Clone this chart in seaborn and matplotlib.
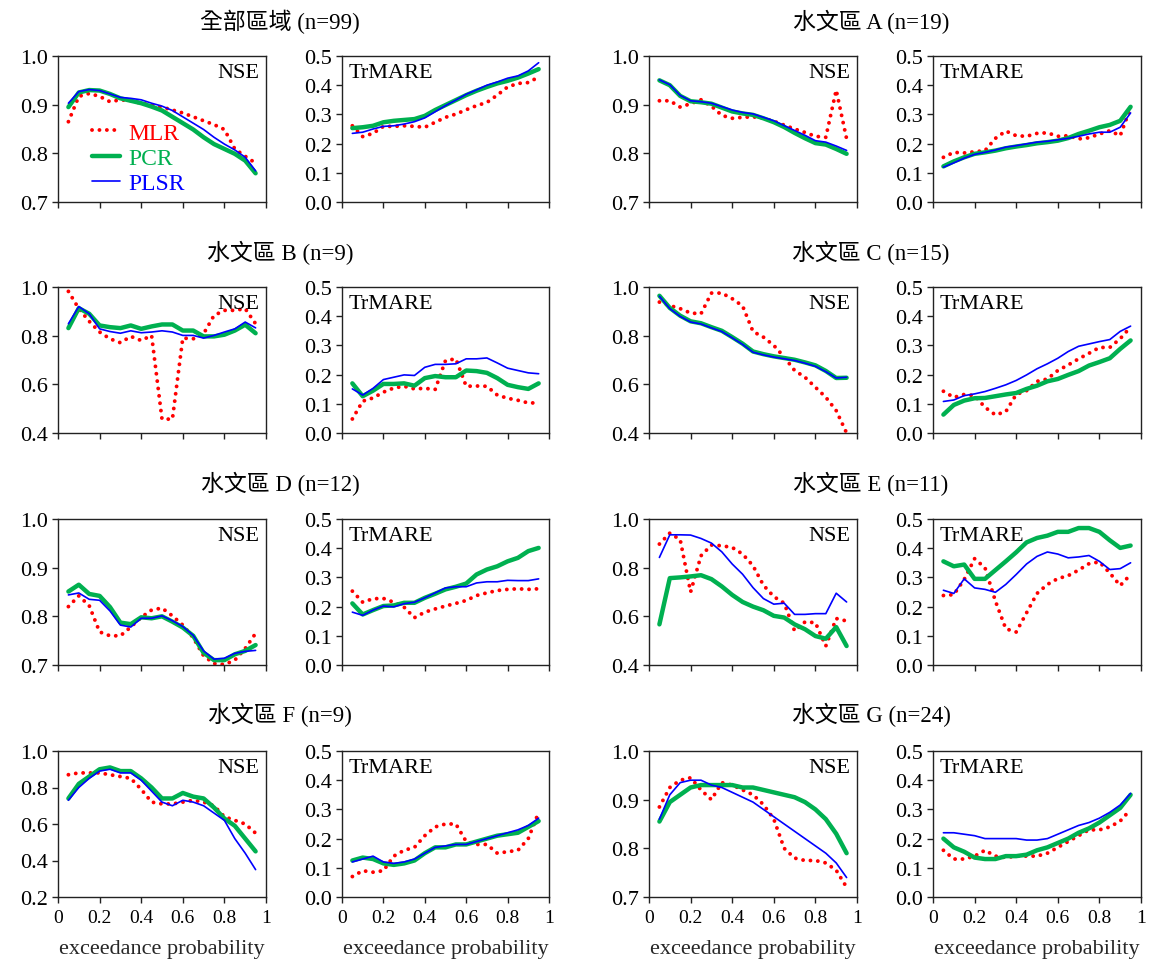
import numpy as np
import matplotlib
matplotlib.use("Agg")
import matplotlib.pyplot as plt
import seaborn as sns

# exceedance probability grid
prob = [0.05, 0.10, 0.15, 0.20, 0.25, 0.30, 0.35, 0.40, 0.45, 0.50,
        0.55, 0.60, 0.65, 0.70, 0.75, 0.80, 0.85, 0.90, 0.95]

regions = ["全部區域 (n=99)", "水文區 A (n=19)", "水文區 B (n=9)", "水文區 C (n=15)",
           "水文區 D (n=12)", "水文區 E (n=11)", "水文區 F (n=9)", "水文區 G (n=24)"]

# 全部區域
nse_all_mlr = [0.865, 0.917, 0.923, 0.917, 0.906, 0.910, 0.908, 0.903, 0.899, 0.895,
               0.889, 0.883, 0.875, 0.867, 0.859, 0.849, 0.809, 0.794, 0.780]
nse_all_pcr = [0.895, 0.925, 0.930, 0.929, 0.922, 0.913, 0.908, 0.903, 0.896, 0.888,
               0.875, 0.862, 0.849, 0.833, 0.819, 0.809, 0.799, 0.785, 0.759]
nse_all_plsr = [0.903, 0.927, 0.931, 0.929, 0.922, 0.915, 0.913, 0.910, 0.903, 0.897,
                0.888, 0.875, 0.862, 0.849, 0.833, 0.819, 0.807, 0.792, 0.764]
tr_all_mlr = [0.261, 0.224, 0.235, 0.259, 0.259, 0.261, 0.259, 0.256, 0.273, 0.290,
              0.301, 0.316, 0.330, 0.341, 0.366, 0.394, 0.406, 0.409, 0.428]
tr_all_pcr = [0.253, 0.256, 0.261, 0.273, 0.278, 0.281, 0.284, 0.295, 0.315, 0.332,
              0.349, 0.366, 0.381, 0.394, 0.406, 0.415, 0.426, 0.440, 0.455]
tr_all_plsr = [0.235, 0.239, 0.250, 0.259, 0.261, 0.267, 0.275, 0.288, 0.309, 0.330,
               0.349, 0.369, 0.384, 0.400, 0.411, 0.424, 0.432, 0.449, 0.477]

# 水文區 A
nse_a_mlr = [0.908, 0.908, 0.895, 0.902, 0.910, 0.897, 0.878, 0.872, 0.874, 0.875,
             0.872, 0.866, 0.858, 0.850, 0.843, 0.835, 0.833, 0.930, 0.830]
nse_a_pcr = [0.950, 0.940, 0.918, 0.907, 0.905, 0.902, 0.894, 0.886, 0.882, 0.879,
             0.872, 0.864, 0.854, 0.842, 0.831, 0.821, 0.818, 0.809, 0.799]
nse_a_plsr = [0.951, 0.941, 0.919, 0.908, 0.906, 0.903, 0.896, 0.889, 0.884, 0.881,
              0.874, 0.867, 0.857, 0.847, 0.837, 0.826, 0.823, 0.815, 0.806]
tr_a_mlr = [0.153, 0.170, 0.168, 0.172, 0.176, 0.218, 0.243, 0.227, 0.225, 0.235,
            0.237, 0.225, 0.227, 0.216, 0.220, 0.233, 0.244, 0.227, 0.324]
tr_a_pcr = [0.122, 0.139, 0.153, 0.165, 0.170, 0.176, 0.184, 0.190, 0.195, 0.201,
            0.205, 0.210, 0.219, 0.233, 0.244, 0.256, 0.264, 0.278, 0.326]
tr_a_plsr = [0.119, 0.134, 0.150, 0.163, 0.170, 0.178, 0.188, 0.193, 0.199, 0.205,
             0.208, 0.213, 0.218, 0.225, 0.233, 0.239, 0.239, 0.256, 0.305]

# 水文區 B
nse_b_mlr = [0.982, 0.911, 0.859, 0.815, 0.787, 0.771, 0.797, 0.780, 0.801, 0.457,
             0.457, 0.790, 0.787, 0.808, 0.883, 0.904, 0.904, 0.911, 0.849]
nse_b_pcr = [0.831, 0.913, 0.890, 0.842, 0.835, 0.831, 0.842, 0.828, 0.838, 0.846,
             0.846, 0.821, 0.821, 0.797, 0.797, 0.804, 0.821, 0.845, 0.810]
nse_b_plsr = [0.849, 0.920, 0.890, 0.828, 0.817, 0.810, 0.820, 0.812, 0.815, 0.820,
              0.815, 0.801, 0.801, 0.790, 0.801, 0.815, 0.828, 0.856, 0.832]
tr_b_mlr = [0.048, 0.109, 0.120, 0.140, 0.154, 0.160, 0.151, 0.153, 0.149, 0.248,
            0.254, 0.160, 0.161, 0.160, 0.130, 0.119, 0.112, 0.103, 0.103]
tr_b_pcr = [0.170, 0.126, 0.145, 0.168, 0.168, 0.170, 0.162, 0.188, 0.195, 0.191,
            0.191, 0.214, 0.212, 0.206, 0.188, 0.165, 0.157, 0.151, 0.170]
tr_b_plsr = [0.151, 0.130, 0.153, 0.183, 0.191, 0.199, 0.197, 0.225, 0.235, 0.235,
             0.237, 0.254, 0.254, 0.257, 0.240, 0.222, 0.214, 0.206, 0.203]

# 水文區 C
nse_c_mlr = [0.938, 0.924, 0.911, 0.893, 0.890, 0.975, 0.975, 0.952, 0.922, 0.817,
             0.794, 0.760, 0.712, 0.657, 0.629, 0.588, 0.547, 0.492, 0.400]
nse_c_pcr = [0.964, 0.914, 0.882, 0.859, 0.851, 0.835, 0.820, 0.794, 0.767, 0.735,
             0.724, 0.715, 0.708, 0.701, 0.690, 0.678, 0.655, 0.626, 0.627]
nse_c_plsr = [0.962, 0.911, 0.879, 0.856, 0.848, 0.832, 0.817, 0.791, 0.764, 0.732,
              0.721, 0.712, 0.705, 0.698, 0.687, 0.674, 0.652, 0.626, 0.629]
tr_c_mlr = [0.143, 0.122, 0.132, 0.128, 0.088, 0.062, 0.073, 0.132, 0.145, 0.177,
            0.185, 0.214, 0.233, 0.254, 0.273, 0.293, 0.293, 0.323, 0.363]
tr_c_pcr = [0.063, 0.096, 0.111, 0.119, 0.120, 0.126, 0.132, 0.137, 0.151, 0.162,
            0.177, 0.185, 0.199, 0.212, 0.231, 0.243, 0.256, 0.288, 0.317]
tr_c_plsr = [0.108, 0.113, 0.128, 0.134, 0.142, 0.153, 0.165, 0.180, 0.199, 0.220,
             0.237, 0.256, 0.279, 0.297, 0.305, 0.313, 0.320, 0.348, 0.366]

# 水文區 D
nse_d_mlr = [0.820, 0.842, 0.822, 0.768, 0.760, 0.760, 0.778, 0.798, 0.813, 0.817,
             0.801, 0.782, 0.756, 0.719, 0.703, 0.701, 0.710, 0.734, 0.765]
nse_d_pcr = [0.851, 0.865, 0.846, 0.842, 0.819, 0.787, 0.784, 0.798, 0.796, 0.800,
             0.789, 0.777, 0.760, 0.725, 0.710, 0.710, 0.722, 0.729, 0.741]
nse_d_plsr = [0.844, 0.848, 0.835, 0.833, 0.811, 0.782, 0.778, 0.796, 0.796, 0.801,
              0.791, 0.779, 0.761, 0.729, 0.712, 0.714, 0.724, 0.728, 0.730]
tr_d_mlr = [0.253, 0.215, 0.227, 0.228, 0.215, 0.198, 0.162, 0.181, 0.192, 0.202,
            0.211, 0.221, 0.238, 0.247, 0.255, 0.259, 0.261, 0.259, 0.261]
tr_d_pcr = [0.211, 0.173, 0.188, 0.202, 0.204, 0.213, 0.213, 0.230, 0.244, 0.259,
            0.268, 0.279, 0.310, 0.327, 0.338, 0.355, 0.367, 0.390, 0.401]
tr_d_plsr = [0.181, 0.170, 0.188, 0.202, 0.199, 0.210, 0.215, 0.230, 0.247, 0.264,
             0.268, 0.268, 0.281, 0.285, 0.285, 0.290, 0.289, 0.289, 0.295]

# 水文區 E
nse_e_mlr = [0.897, 0.942, 0.915, 0.700, 0.849, 0.893, 0.890, 0.883, 0.856, 0.808,
             0.728, 0.681, 0.654, 0.540, 0.577, 0.574, 0.478, 0.591, 0.581]
nse_e_pcr = [0.567, 0.757, 0.760, 0.764, 0.769, 0.753, 0.723, 0.688, 0.659, 0.640,
             0.625, 0.602, 0.595, 0.567, 0.547, 0.519, 0.508, 0.556, 0.478]
nse_e_plsr = [0.842, 0.935, 0.935, 0.934, 0.920, 0.901, 0.865, 0.815, 0.773, 0.718,
              0.673, 0.650, 0.654, 0.608, 0.608, 0.611, 0.611, 0.695, 0.659]
tr_e_mlr = [0.238, 0.241, 0.293, 0.364, 0.333, 0.219, 0.124, 0.113, 0.179, 0.245,
            0.276, 0.296, 0.306, 0.325, 0.347, 0.353, 0.315, 0.272, 0.310]
tr_e_pcr = [0.355, 0.338, 0.344, 0.295, 0.295, 0.325, 0.355, 0.386, 0.420, 0.435,
            0.443, 0.456, 0.456, 0.469, 0.469, 0.456, 0.427, 0.401, 0.409]
tr_e_plsr = [0.256, 0.245, 0.295, 0.264, 0.259, 0.249, 0.276, 0.310, 0.346, 0.372,
             0.387, 0.380, 0.367, 0.370, 0.375, 0.355, 0.327, 0.330, 0.350]

# 水文區 F
nse_f_mlr = [0.87, 0.88, 0.88, 0.88, 0.87, 0.86, 0.85, 0.79, 0.72, 0.71,
             0.71, 0.72, 0.73, 0.72, 0.70, 0.64, 0.62, 0.60, 0.55]
nse_f_pcr = [0.74, 0.82, 0.86, 0.90, 0.91, 0.89, 0.89, 0.85, 0.80, 0.74,
             0.74, 0.77, 0.75, 0.74, 0.69, 0.63, 0.59, 0.52, 0.45]
nse_f_plsr = [0.73, 0.80, 0.85, 0.89, 0.90, 0.88, 0.88, 0.84, 0.78, 0.72,
              0.70, 0.73, 0.72, 0.70, 0.66, 0.62, 0.52, 0.44, 0.35]
tr_f_mlr = [0.07, 0.09, 0.085, 0.09, 0.14, 0.16, 0.17, 0.21, 0.24, 0.25,
            0.25, 0.19, 0.18, 0.18, 0.15, 0.155, 0.16, 0.20, 0.29]
tr_f_pcr = [0.125, 0.135, 0.13, 0.115, 0.11, 0.115, 0.125, 0.15, 0.17, 0.17,
            0.18, 0.18, 0.19, 0.20, 0.21, 0.215, 0.22, 0.24, 0.26]
tr_f_plsr = [0.12, 0.13, 0.14, 0.12, 0.115, 0.12, 0.13, 0.15, 0.17, 0.175,
             0.18, 0.18, 0.19, 0.20, 0.21, 0.22, 0.23, 0.245, 0.27]

# 水文區 G
nse_g_mlr = [0.885, 0.925, 0.940, 0.945, 0.920, 0.900, 0.935, 0.930, 0.920, 0.910,
             0.890, 0.860, 0.800, 0.780, 0.775, 0.775, 0.770, 0.755, 0.720]
nse_g_pcr = [0.855, 0.895, 0.910, 0.925, 0.930, 0.930, 0.930, 0.930, 0.925, 0.925,
             0.920, 0.915, 0.910, 0.905, 0.895, 0.880, 0.860, 0.830, 0.790]
nse_g_plsr = [0.860, 0.910, 0.935, 0.940, 0.940, 0.930, 0.925, 0.915, 0.905, 0.895,
              0.880, 0.865, 0.850, 0.835, 0.820, 0.805, 0.790, 0.770, 0.740]
tr_g_mlr = [0.16, 0.13, 0.13, 0.14, 0.16, 0.14, 0.135, 0.14, 0.14, 0.14,
            0.15, 0.17, 0.19, 0.21, 0.23, 0.23, 0.24, 0.26, 0.30]
tr_g_pcr = [0.20, 0.17, 0.155, 0.135, 0.13, 0.13, 0.14, 0.14, 0.145, 0.16,
            0.17, 0.185, 0.20, 0.22, 0.235, 0.255, 0.28, 0.305, 0.35]
tr_g_plsr = [0.22, 0.22, 0.215, 0.21, 0.20, 0.20, 0.20, 0.20, 0.195, 0.195,
             0.20, 0.215, 0.23, 0.245, 0.255, 0.27, 0.29, 0.315, 0.355]

nse_sets = [(nse_all_mlr, nse_all_pcr, nse_all_plsr), (nse_a_mlr, nse_a_pcr, nse_a_plsr),
            (nse_b_mlr, nse_b_pcr, nse_b_plsr), (nse_c_mlr, nse_c_pcr, nse_c_plsr),
            (nse_d_mlr, nse_d_pcr, nse_d_plsr), (nse_e_mlr, nse_e_pcr, nse_e_plsr),
            (nse_f_mlr, nse_f_pcr, nse_f_plsr), (nse_g_mlr, nse_g_pcr, nse_g_plsr)]
tr_sets = [(tr_all_mlr, tr_all_pcr, tr_all_plsr), (tr_a_mlr, tr_a_pcr, tr_a_plsr),
           (tr_b_mlr, tr_b_pcr, tr_b_plsr), (tr_c_mlr, tr_c_pcr, tr_c_plsr),
           (tr_d_mlr, tr_d_pcr, tr_d_plsr), (tr_e_mlr, tr_e_pcr, tr_e_plsr),
           (tr_f_mlr, tr_f_pcr, tr_f_plsr), (tr_g_mlr, tr_g_pcr, tr_g_plsr)]

# NSE y-axis range (min, max, step) for each region
nse_ylims = [(0.7, 1.0, 0.1), (0.7, 1.0, 0.1), (0.4, 1.0, 0.2), (0.4, 1.0, 0.2),
             (0.7, 1.0, 0.1), (0.4, 1.0, 0.2), (0.2, 1.0, 0.2), (0.7, 1.0, 0.1)]

sns.set_style("ticks")
plt.rcParams['font.family'] = ['Liberation Serif', 'Noto Sans CJK TC', 'DejaVu Sans']
plt.rcParams['text.color'] = 'black'
plt.rcParams['axes.linewidth'] = 1.0
plt.rcParams['xtick.major.size'] = 4
plt.rcParams['ytick.major.size'] = 4
plt.rcParams['xtick.major.width'] = 1.0
plt.rcParams['ytick.major.width'] = 1.0

W, H = 1151, 962
fig = plt.figure(figsize=(W / 100, H / 100), dpi=100)

col_px = [(58, 266), (342, 549), (649, 857), (933, 1141)]
row_px = [(57, 203), (288, 434), (520, 666), (752, 898)]
title_x = [280, 871]

styles = [
    dict(label="MLR", color="#FF0000", lw=2.8, linestyle=(0, (0.01, 1.9)),
         dash_capstyle="round", zorder=2),
    dict(label="PCR", color="#00B050", lw=3.2, zorder=3),
    dict(label="PLSR", color="#0000FF", lw=1.2, zorder=4),
]

for i in range(8):
    r, c = divmod(i, 2)
    top, bot = row_px[r]
    for k in range(2):
        left, right = col_px[2 * c + k]
        ax = fig.add_axes([left / W, 1 - bot / H, (right - left) / W, (bot - top) / H])
        series = nse_sets[i] if k == 0 else tr_sets[i]
        for s, st in zip(series, styles):
            sns.lineplot(x=prob, y=s, ax=ax, **st)
        if k == 0:
            lo, hi, step = nse_ylims[i]
            ax.text(0.97, 0.95, "NSE", transform=ax.transAxes, ha="right", va="top", fontsize=16)
        else:
            lo, hi, step = 0.0, 0.5, 0.1
            ax.text(0.03, 0.95, "TrMARE", transform=ax.transAxes, ha="left", va="top", fontsize=16)
        ax.set_ylim(lo, hi)
        ticks = np.arange(lo, hi + step / 2, step)
        ax.set_yticks(ticks)
        ax.set_yticklabels([f"{v:.1f}" for v in ticks], fontsize=16)
        ax.set_xlim(0, 1)
        ax.set_xticks([0, 0.2, 0.4, 0.6, 0.8, 1.0])
        if r == 3:
            ax.set_xticklabels(["0", "0.2", "0.4", "0.6", "0.8", "1"], fontsize=14)
            ax.set_xlabel("exceedance probability", fontsize=16, labelpad=9)
        else:
            ax.set_xticklabels([])
            ax.set_xlabel("")
        ax.set_ylabel("")
        for sp in ax.spines.values():
            sp.set_visible(True)
            sp.set_color("#222222")
        ax.tick_params(axis="both", direction="out", colors="#222222", labelcolor="black", pad=3)
        ax.tick_params(axis="x", pad=5)
        if i == 0 and k == 0:
            ax.legend(loc="lower left", bbox_to_anchor=(0.06, -0.09), frameon=False,
                      fontsize=17, handlelength=1.2, handletextpad=0.35,
                      labelspacing=0.15, labelcolor="linecolor")
        else:
            lg = ax.get_legend()
            if lg is not None:
                lg.remove()
    fig.text(title_x[c] / W, 1 - (22 + 231 * r) / H, regions[i], ha="center", va="center",
             fontsize=16.5)

fig.savefig("out.png", dpi=100)
